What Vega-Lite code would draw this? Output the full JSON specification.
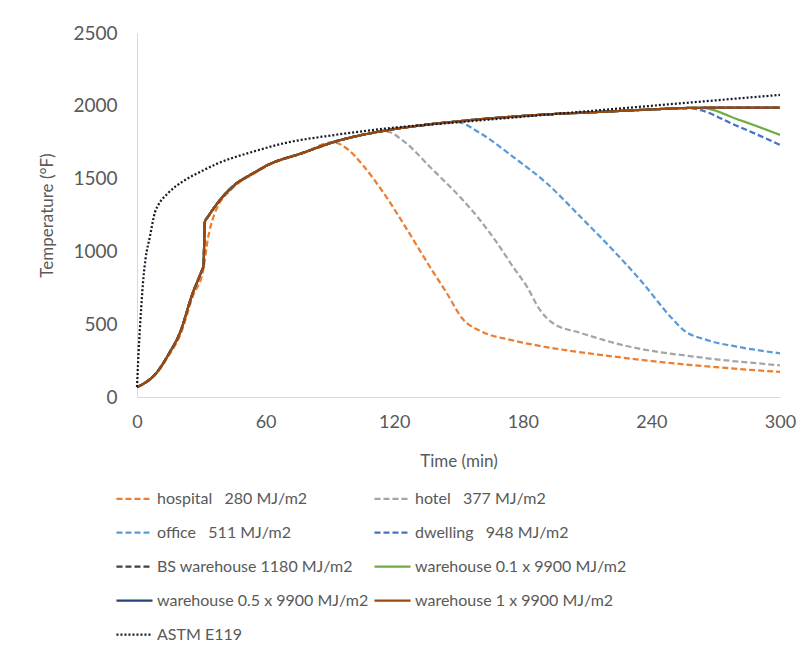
{
  "$schema": "https://vega.github.io/schema/vega-lite/v6.json",
  "width": 643,
  "height": 364,
  "autosize": {"type": "none"},
  "padding": {"left": 137, "top": 33, "right": 27, "bottom": 250},
  "background": "white",
  "config": {
    "font": "Lato",
    "view": {"stroke": null},
    "axis": {"labelColor": "#595959", "titleColor": "#595959", "titleFontWeight": "normal", "domainColor": "#d9d9d9", "domainWidth": 1, "ticks": false, "grid": false, "labelFont": "Lato", "titleFont": "Lato"},
    "legend": {"labelColor": "#595959", "labelFont": "Lato"}
  },
  "data": {
    "values": [
      {"s": "hospital", "t": 0, "T": 68}, {"s": "hospital", "t": 9, "T": 160}, {"s": "hospital", "t": 15, "T": 290}, {"s": "hospital", "t": 20, "T": 420}, {"s": "hospital", "t": 26, "T": 690}, {"s": "hospital", "t": 31, "T": 880}, {"s": "hospital", "t": 33, "T": 1080}, {"s": "hospital", "t": 36, "T": 1250}, {"s": "hospital", "t": 45, "T": 1440}, {"s": "hospital", "t": 54, "T": 1530}, {"s": "hospital", "t": 61, "T": 1590}, {"s": "hospital", "t": 77, "T": 1673}, {"s": "hospital", "t": 91.5, "T": 1750}, {"s": "hospital", "t": 98, "T": 1705}, {"s": "hospital", "t": 105.5, "T": 1590}, {"s": "hospital", "t": 116.5, "T": 1370}, {"s": "hospital", "t": 126, "T": 1150}, {"s": "hospital", "t": 136.7, "T": 893}, {"s": "hospital", "t": 144.5, "T": 714}, {"s": "hospital", "t": 152, "T": 535}, {"s": "hospital", "t": 160, "T": 455}, {"s": "hospital", "t": 175, "T": 390}, {"s": "hospital", "t": 191, "T": 343}, {"s": "hospital", "t": 216, "T": 290}, {"s": "hospital", "t": 238, "T": 250}, {"s": "hospital", "t": 270, "T": 205}, {"s": "hospital", "t": 300, "T": 172},

      {"s": "hotel", "t": 0, "T": 68}, {"s": "hotel", "t": 9, "T": 165}, {"s": "hotel", "t": 15, "T": 300}, {"s": "hotel", "t": 20, "T": 440}, {"s": "hotel", "t": 26, "T": 714}, {"s": "hotel", "t": 30, "T": 860}, {"s": "hotel", "t": 31, "T": 900}, {"s": "hotel", "t": 31.7, "T": 1205}, {"s": "hotel", "t": 33, "T": 1235}, {"s": "hotel", "t": 38, "T": 1340}, {"s": "hotel", "t": 45, "T": 1450}, {"s": "hotel", "t": 54, "T": 1535}, {"s": "hotel", "t": 61, "T": 1593}, {"s": "hotel", "t": 77, "T": 1675}, {"s": "hotel", "t": 95, "T": 1765}, {"s": "hotel", "t": 105, "T": 1800}, {"s": "hotel", "t": 116, "T": 1825}, {"s": "hotel", "t": 125, "T": 1750}, {"s": "hotel", "t": 136.7, "T": 1580}, {"s": "hotel", "t": 152, "T": 1353}, {"s": "hotel", "t": 160, "T": 1216}, {"s": "hotel", "t": 168, "T": 1058}, {"s": "hotel", "t": 175.5, "T": 893}, {"s": "hotel", "t": 182, "T": 756}, {"s": "hotel", "t": 188, "T": 598}, {"s": "hotel", "t": 194, "T": 508}, {"s": "hotel", "t": 207, "T": 440}, {"s": "hotel", "t": 230, "T": 345}, {"s": "hotel", "t": 261, "T": 275}, {"s": "hotel", "t": 300, "T": 218},

      {"s": "office", "t": 0, "T": 68}, {"s": "office", "t": 9, "T": 165}, {"s": "office", "t": 15, "T": 300}, {"s": "office", "t": 20, "T": 440}, {"s": "office", "t": 26, "T": 714}, {"s": "office", "t": 30, "T": 860}, {"s": "office", "t": 31, "T": 900}, {"s": "office", "t": 31.7, "T": 1205}, {"s": "office", "t": 33, "T": 1235}, {"s": "office", "t": 38, "T": 1340}, {"s": "office", "t": 45, "T": 1450}, {"s": "office", "t": 54, "T": 1535}, {"s": "office", "t": 61, "T": 1593}, {"s": "office", "t": 77, "T": 1675}, {"s": "office", "t": 95, "T": 1765}, {"s": "office", "t": 105, "T": 1800}, {"s": "office", "t": 116, "T": 1830}, {"s": "office", "t": 123, "T": 1847}, {"s": "office", "t": 135, "T": 1870}, {"s": "office", "t": 149, "T": 1890}, {"s": "office", "t": 160, "T": 1813}, {"s": "office", "t": 175.5, "T": 1649}, {"s": "office", "t": 191, "T": 1470}, {"s": "office", "t": 207, "T": 1236}, {"s": "office", "t": 222, "T": 1010}, {"s": "office", "t": 235, "T": 800}, {"s": "office", "t": 249, "T": 550}, {"s": "office", "t": 255, "T": 460}, {"s": "office", "t": 266, "T": 391}, {"s": "office", "t": 281, "T": 343}, {"s": "office", "t": 300, "T": 300},

      {"s": "dwelling", "t": 0, "T": 68}, {"s": "dwelling", "t": 9, "T": 165}, {"s": "dwelling", "t": 15, "T": 300}, {"s": "dwelling", "t": 20, "T": 440}, {"s": "dwelling", "t": 26, "T": 714}, {"s": "dwelling", "t": 30, "T": 860}, {"s": "dwelling", "t": 31, "T": 900}, {"s": "dwelling", "t": 31.7, "T": 1205}, {"s": "dwelling", "t": 33, "T": 1235}, {"s": "dwelling", "t": 38, "T": 1340}, {"s": "dwelling", "t": 45, "T": 1450}, {"s": "dwelling", "t": 54, "T": 1535}, {"s": "dwelling", "t": 61, "T": 1593}, {"s": "dwelling", "t": 77, "T": 1675}, {"s": "dwelling", "t": 95, "T": 1765}, {"s": "dwelling", "t": 105, "T": 1800}, {"s": "dwelling", "t": 116, "T": 1830}, {"s": "dwelling", "t": 123, "T": 1847}, {"s": "dwelling", "t": 135, "T": 1870}, {"s": "dwelling", "t": 149, "T": 1892}, {"s": "dwelling", "t": 160, "T": 1908}, {"s": "dwelling", "t": 174, "T": 1924}, {"s": "dwelling", "t": 190, "T": 1940}, {"s": "dwelling", "t": 216, "T": 1958}, {"s": "dwelling", "t": 240, "T": 1975}, {"s": "dwelling", "t": 257, "T": 1984}, {"s": "dwelling", "t": 281, "T": 1855}, {"s": "dwelling", "t": 300, "T": 1731},

      {"s": "bs", "t": 0, "T": 68}, {"s": "bs", "t": 9, "T": 165}, {"s": "bs", "t": 15, "T": 300}, {"s": "bs", "t": 20, "T": 440}, {"s": "bs", "t": 26, "T": 714}, {"s": "bs", "t": 30, "T": 860}, {"s": "bs", "t": 31, "T": 900}, {"s": "bs", "t": 31.7, "T": 1205}, {"s": "bs", "t": 33, "T": 1235}, {"s": "bs", "t": 38, "T": 1340}, {"s": "bs", "t": 45, "T": 1450}, {"s": "bs", "t": 54, "T": 1535}, {"s": "bs", "t": 61, "T": 1593}, {"s": "bs", "t": 77, "T": 1675}, {"s": "bs", "t": 95, "T": 1765}, {"s": "bs", "t": 105, "T": 1800}, {"s": "bs", "t": 116, "T": 1830}, {"s": "bs", "t": 123, "T": 1847}, {"s": "bs", "t": 135, "T": 1870}, {"s": "bs", "t": 149, "T": 1892}, {"s": "bs", "t": 160, "T": 1908}, {"s": "bs", "t": 174, "T": 1924}, {"s": "bs", "t": 190, "T": 1940}, {"s": "bs", "t": 216, "T": 1958}, {"s": "bs", "t": 240, "T": 1975}, {"s": "bs", "t": 257, "T": 1985}, {"s": "bs", "t": 280, "T": 1988}, {"s": "bs", "t": 300, "T": 1988},

      {"s": "w01", "t": 0, "T": 68}, {"s": "w01", "t": 9, "T": 165}, {"s": "w01", "t": 15, "T": 300}, {"s": "w01", "t": 20, "T": 440}, {"s": "w01", "t": 26, "T": 714}, {"s": "w01", "t": 30, "T": 860}, {"s": "w01", "t": 31, "T": 900}, {"s": "w01", "t": 31.7, "T": 1205}, {"s": "w01", "t": 33, "T": 1235}, {"s": "w01", "t": 38, "T": 1340}, {"s": "w01", "t": 45, "T": 1450}, {"s": "w01", "t": 54, "T": 1535}, {"s": "w01", "t": 61, "T": 1593}, {"s": "w01", "t": 77, "T": 1675}, {"s": "w01", "t": 95, "T": 1765}, {"s": "w01", "t": 105, "T": 1800}, {"s": "w01", "t": 116, "T": 1830}, {"s": "w01", "t": 123, "T": 1847}, {"s": "w01", "t": 135, "T": 1870}, {"s": "w01", "t": 149, "T": 1892}, {"s": "w01", "t": 160, "T": 1908}, {"s": "w01", "t": 174, "T": 1924}, {"s": "w01", "t": 190, "T": 1940}, {"s": "w01", "t": 216, "T": 1958}, {"s": "w01", "t": 240, "T": 1975}, {"s": "w01", "t": 257, "T": 1985}, {"s": "w01", "t": 263, "T": 1986}, {"s": "w01", "t": 281, "T": 1903}, {"s": "w01", "t": 300, "T": 1800},

      {"s": "w05", "t": 0, "T": 68}, {"s": "w05", "t": 9, "T": 165}, {"s": "w05", "t": 15, "T": 300}, {"s": "w05", "t": 20, "T": 440}, {"s": "w05", "t": 26, "T": 714}, {"s": "w05", "t": 30, "T": 860}, {"s": "w05", "t": 31, "T": 900}, {"s": "w05", "t": 31.7, "T": 1205}, {"s": "w05", "t": 33, "T": 1235}, {"s": "w05", "t": 38, "T": 1340}, {"s": "w05", "t": 45, "T": 1450}, {"s": "w05", "t": 54, "T": 1535}, {"s": "w05", "t": 61, "T": 1593}, {"s": "w05", "t": 77, "T": 1675}, {"s": "w05", "t": 95, "T": 1765}, {"s": "w05", "t": 105, "T": 1800}, {"s": "w05", "t": 116, "T": 1830}, {"s": "w05", "t": 123, "T": 1847}, {"s": "w05", "t": 135, "T": 1870}, {"s": "w05", "t": 149, "T": 1892}, {"s": "w05", "t": 160, "T": 1908}, {"s": "w05", "t": 174, "T": 1924}, {"s": "w05", "t": 190, "T": 1940}, {"s": "w05", "t": 216, "T": 1958}, {"s": "w05", "t": 240, "T": 1975}, {"s": "w05", "t": 257, "T": 1985}, {"s": "w05", "t": 280, "T": 1988}, {"s": "w05", "t": 300, "T": 1988},

      {"s": "w1", "t": 0, "T": 68}, {"s": "w1", "t": 9, "T": 165}, {"s": "w1", "t": 15, "T": 300}, {"s": "w1", "t": 20, "T": 440}, {"s": "w1", "t": 26, "T": 714}, {"s": "w1", "t": 30, "T": 860}, {"s": "w1", "t": 31, "T": 900}, {"s": "w1", "t": 31.7, "T": 1205}, {"s": "w1", "t": 33, "T": 1235}, {"s": "w1", "t": 38, "T": 1340}, {"s": "w1", "t": 45, "T": 1450}, {"s": "w1", "t": 54, "T": 1535}, {"s": "w1", "t": 61, "T": 1593}, {"s": "w1", "t": 77, "T": 1675}, {"s": "w1", "t": 95, "T": 1765}, {"s": "w1", "t": 105, "T": 1800}, {"s": "w1", "t": 116, "T": 1830}, {"s": "w1", "t": 123, "T": 1847}, {"s": "w1", "t": 135, "T": 1870}, {"s": "w1", "t": 149, "T": 1892}, {"s": "w1", "t": 160, "T": 1908}, {"s": "w1", "t": 174, "T": 1924}, {"s": "w1", "t": 190, "T": 1940}, {"s": "w1", "t": 216, "T": 1958}, {"s": "w1", "t": 240, "T": 1975}, {"s": "w1", "t": 257, "T": 1985}, {"s": "w1", "t": 280, "T": 1988}, {"s": "w1", "t": 300, "T": 1988},

      {"s": "astm", "t": 0, "T": 68}, {"s": "astm", "t": 1, "T": 380}, {"s": "astm", "t": 2, "T": 620}, {"s": "astm", "t": 3, "T": 820}, {"s": "astm", "t": 4, "T": 950}, {"s": "astm", "t": 6, "T": 1100}, {"s": "astm", "t": 8.4, "T": 1270}, {"s": "astm", "t": 10, "T": 1320}, {"s": "astm", "t": 14.5, "T": 1400}, {"s": "astm", "t": 22.4, "T": 1490}, {"s": "astm", "t": 30, "T": 1550}, {"s": "astm", "t": 37.8, "T": 1605}, {"s": "astm", "t": 53.7, "T": 1683}, {"s": "astm", "t": 69, "T": 1744}, {"s": "astm", "t": 92.4, "T": 1800}, {"s": "astm", "t": 120, "T": 1850}, {"s": "astm", "t": 140, "T": 1875}, {"s": "astm", "t": 160, "T": 1900}, {"s": "astm", "t": 180, "T": 1925}, {"s": "astm", "t": 200, "T": 1950}, {"s": "astm", "t": 220, "T": 1975}, {"s": "astm", "t": 240, "T": 2000}, {"s": "astm", "t": 260, "T": 2025}, {"s": "astm", "t": 280, "T": 2050}, {"s": "astm", "t": 300, "T": 2075}
    ]
  },
  "mark": {"type": "line", "strokeWidth": 2.25, "interpolate": "monotone"},
  "encoding": {
    "x": {"field": "t", "type": "quantitative", "title": "Time (min)", "scale": {"domain": [0, 300], "nice": false},
      "axis": {"values": [0, 60, 120, 180, 240, 300], "format": "d", "labelFontSize": 18, "titleFontSize": 17, "labelPadding": 16, "titlePadding": 22, "labelFlush": false}},
    "y": {"field": "T", "type": "quantitative", "title": "Temperature (°F)", "scale": {"domain": [0, 2500], "nice": false},
      "axis": {"values": [0, 500, 1000, 1500, 2000, 2500], "format": "d", "labelFontSize": 19, "titleFontSize": 17, "labelPadding": 20, "titlePadding": 16}},
    "color": {"field": "s", "type": "nominal", "title": null,
      "scale": {"domain": ["hospital", "hotel", "office", "dwelling", "bs", "w01", "w05", "w1", "astm"],
        "range": ["#ED7D31", "#A5A5A5", "#5B9BD5", "#4472C4", "#404040", "#70AD47", "#264478", "#9E480E", "#1a1a2a"]},
      "legend": {"orient": "none", "direction": "horizontal", "legendX": -22, "legendY": 446, "columns": 2, "symbolType": "stroke", "symbolSize": 1300, "symbolStrokeWidth": 2.25, "labelFontSize": 16, "labelOffset": 3, "rowPadding": 6, "columnPadding": 0, "padding": 0, "labelLimit": 400,
        "labelExpr": "{'hospital': 'hospital\u00a0\u00a0\u00a0280 MJ/m2', 'hotel': 'hotel\u00a0\u00a0\u00a0377 MJ/m2', 'office': 'office\u00a0\u00a0\u00a0511 MJ/m2', 'dwelling': 'dwelling\u00a0\u00a0\u00a0948 MJ/m2', 'bs': 'BS warehouse 1180 MJ/m2', 'w01': 'warehouse 0.1 x 9900 MJ/m2', 'w05': 'warehouse 0.5 x 9900 MJ/m2', 'w1': 'warehouse 1 x 9900 MJ/m2', 'astm': 'ASTM E119'}[datum.value]"}},
    "strokeDash": {"field": "s", "type": "nominal", "title": null,
      "scale": {"domain": ["hospital", "hotel", "office", "dwelling", "bs", "w01", "w05", "w1", "astm"],
        "range": [[6, 3], [6, 3], [6, 3], [6, 3], [6, 3], [1, 0], [1, 0], [1, 0], [2, 2]]}}
  }
}
